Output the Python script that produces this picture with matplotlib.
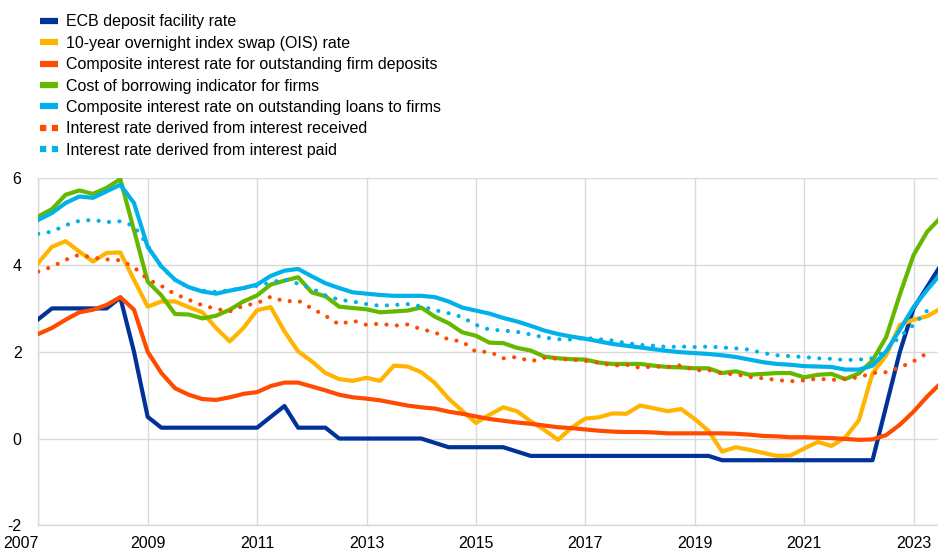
import matplotlib
matplotlib.use("Agg")
import matplotlib.pyplot as plt
import matplotlib.transforms as mtransforms
import numpy as np

# Quarterly observations, 2007 Q1 - 2023 Q3 (percentages per annum)
quarters = 2007 + np.arange(67) / 4

ecb_dfr = [2.75, 3.0, 3.0, 3.0, 3.0, 3.0, 3.25, 2.0, 0.5,
           0.25, 0.25, 0.25, 0.25, 0.25, 0.25, 0.25, 0.25,
           0.5, 0.75, 0.25, 0.25, 0.25,
           0.0, 0.0, 0.0, 0.0, 0.0, 0.0, 0.0,
           -0.1, -0.2, -0.2, -0.2, -0.2, -0.2, -0.3,
           -0.4, -0.4, -0.4, -0.4, -0.4, -0.4, -0.4, -0.4, -0.4, -0.4, -0.4, -0.4, -0.4, -0.4,
           -0.5, -0.5, -0.5, -0.5, -0.5, -0.5, -0.5, -0.5, -0.5, -0.5, -0.5, -0.5,
           0.75, 2.0, 3.0, 3.5, 4.0]

ois_10y = [4.05, 4.42, 4.55, 4.31, 4.08, 4.28, 4.29, 3.66, 3.04, 3.16,
           3.16, 3.03, 2.91, 2.55, 2.24, 2.55, 2.96, 3.03, 2.47, 2.01,
           1.78, 1.51, 1.37, 1.33, 1.40, 1.33, 1.68, 1.66, 1.53, 1.28,
           0.92, 0.64, 0.36, 0.55, 0.72, 0.63, 0.40, 0.20, -0.03, 0.25,
           0.46, 0.49, 0.58, 0.57, 0.76, 0.70, 0.63, 0.68, 0.45, 0.18,
           -0.30, -0.20, -0.26, -0.33, -0.40, -0.39, -0.23, -0.08, -0.17, 0.02,
           0.42, 1.50, 1.92, 2.62, 2.74, 2.82, 3.00]

deposits = [2.41, 2.55, 2.74, 2.91, 2.97, 3.08, 3.26, 2.97, 2.00, 1.51,
            1.16, 1.01, 0.91, 0.89, 0.95, 1.03, 1.07, 1.21, 1.29, 1.29,
            1.20, 1.11, 1.01, 0.95, 0.92, 0.88, 0.82, 0.76, 0.72, 0.69,
            0.62, 0.57, 0.51, 0.45, 0.41, 0.37, 0.34, 0.30, 0.26, 0.24,
            0.21, 0.18, 0.16, 0.15, 0.15, 0.14, 0.12, 0.12, 0.12, 0.12,
            0.12, 0.11, 0.09, 0.06, 0.05, 0.03, 0.03, 0.02, 0.01, -0.01,
            -0.03, -0.02, 0.08, 0.32, 0.62, 0.97, 1.28]

cost_borrowing = [5.12, 5.29, 5.62, 5.72, 5.64, 5.78, 5.98, 4.80, 3.62, 3.30,
                  2.87, 2.86, 2.77, 2.83, 2.97, 3.16, 3.30, 3.55, 3.64, 3.72,
                  3.37, 3.28, 3.04, 3.01, 2.98, 2.91, 2.93, 2.95, 3.02, 2.81,
                  2.66, 2.45, 2.37, 2.21, 2.20, 2.09, 2.03, 1.89, 1.85, 1.83,
                  1.82, 1.75, 1.72, 1.72, 1.72, 1.68, 1.65, 1.64, 1.62, 1.62,
                  1.51, 1.55, 1.47, 1.49, 1.51, 1.51, 1.41, 1.47, 1.49, 1.37,
                  1.50, 1.80, 2.34, 3.32, 4.23, 4.77, 5.10]

loans = [5.04, 5.20, 5.43, 5.58, 5.55, 5.70, 5.85, 5.43, 4.42, 3.97,
         3.66, 3.49, 3.39, 3.34, 3.41, 3.47, 3.55, 3.75, 3.87, 3.91,
         3.74, 3.58, 3.47, 3.37, 3.34, 3.31, 3.29, 3.29, 3.29, 3.26,
         3.16, 3.02, 2.95, 2.88, 2.78, 2.70, 2.60, 2.49, 2.41, 2.35,
         2.30, 2.24, 2.18, 2.14, 2.10, 2.06, 2.02, 1.99, 1.97, 1.95,
         1.92, 1.88, 1.82, 1.76, 1.72, 1.70, 1.67, 1.66, 1.65, 1.59,
         1.59, 1.68, 2.01, 2.51, 3.03, 3.43, 3.80]

# derived rates stop one quarter earlier
received = [3.85, 3.96, 4.12, 4.24, 4.17, 4.13, 4.11, 3.95, 3.67, 3.52,
            3.33, 3.20, 3.07, 2.99, 2.93, 3.06, 3.12, 3.27, 3.16, 3.18,
            3.00, 2.83, 2.63, 2.72, 2.62, 2.65, 2.60, 2.63, 2.52, 2.45,
            2.28, 2.24, 2.00, 2.00, 1.85, 1.88, 1.78, 1.86, 1.84, 1.82,
            1.79, 1.75, 1.68, 1.70, 1.63, 1.66, 1.65, 1.69, 1.57, 1.58,
            1.50, 1.48, 1.42, 1.39, 1.35, 1.32, 1.34, 1.38, 1.35, 1.38,
            1.41, 1.51, 1.53, 1.64, 1.78, 1.97]

paid = [4.72, 4.77, 4.92, 5.02, 5.04, 4.99, 5.01, 4.90, 4.45, 3.95,
        3.66, 3.48, 3.41, 3.38, 3.42, 3.47, 3.52, 3.60, 3.67, 3.57,
        3.46, 3.30, 3.20, 3.16, 3.10, 3.06, 3.08, 3.10, 3.05, 2.96,
        2.89, 2.80, 2.62, 2.51, 2.49, 2.46, 2.40, 2.33, 2.29, 2.28,
        2.32, 2.29, 2.26, 2.20, 2.16, 2.14, 2.11, 2.12, 2.11, 2.12,
        2.10, 2.08, 2.05, 1.97, 1.92, 1.90, 1.88, 1.85, 1.84, 1.81,
        1.82, 1.85, 2.03, 2.35, 2.62, 2.95]

year_ticks = [2007, 2009, 2011, 2013, 2015, 2017, 2019, 2021, 2023]

DARK_BLUE = "#003299"
YELLOW = "#FFB400"
RED = "#FF4B00"
GREEN = "#65B800"
LIGHT_BLUE = "#00B1EA"
GRID = "#D9D9D9"

plt.rcParams["font.family"] = ["Liberation Sans", "DejaVu Sans"]
plt.rcParams["font.size"] = 11.5
plt.rcParams["axes.unicode_minus"] = False

fig = plt.figure(figsize=(9.38, 5.52), dpi=100)
ax = fig.add_axes([0.0408, 0.0484, 0.9623, 0.6286])

lw = 3.0
dots = (0, (0.01, 2.5))

ax.plot(quarters, ecb_dfr, color=DARK_BLUE, lw=lw, label="ECB deposit facility rate", zorder=3)
ax.plot(quarters, ois_10y, color=YELLOW, lw=lw, label="10-year overnight index swap (OIS) rate", zorder=3)
ax.plot(quarters, deposits, color=RED, lw=lw,
        label="Composite interest rate for outstanding firm deposits", zorder=3)
ax.plot(quarters, cost_borrowing, color=GREEN, lw=lw,
        label="Cost of borrowing indicator for firms", zorder=3)
ax.plot(quarters, loans, color=LIGHT_BLUE, lw=lw,
        label="Composite interest rate on outstanding loans to firms", zorder=3)
ax.plot(quarters[:len(received)], received, color=RED, lw=lw, linestyle=dots,
        dash_capstyle="round", label="Interest rate derived from interest received", zorder=3)
ax.plot(quarters[:len(paid)], paid, color=LIGHT_BLUE, lw=lw, linestyle=dots,
        dash_capstyle="round", label="Interest rate derived from interest paid", zorder=3)

ax.set_xlim(2007, 2023.5)
ax.set_ylim(-2, 6)
ax.set_yticks([-2, 0, 2, 4, 6])
ax.set_xticks(year_ticks)
ax.set_xticklabels([str(y) for y in year_ticks])
ax.grid(True, color=GRID, lw=1.0, zorder=0)
ax.tick_params(length=0, pad=8, colors="black")
ax.tick_params(axis="y", pad=12)
for side in ("top", "right"):
    ax.spines[side].set_visible(False)
for side in ("left", "bottom"):
    ax.spines[side].set_color(GRID)
    ax.spines[side].set_linewidth(1.0)

# first year label sits left of the axis line
first = ax.get_xticklabels()[0]
first.set_transform(first.get_transform() +
                    mtransforms.ScaledTranslation(-0.17, 0, fig.dpi_scale_trans))

handles, labels = ax.get_legend_handles_labels()
leg = fig.legend(handles, labels, loc="upper left", bbox_to_anchor=(0.0426, 0.974),
                 frameon=False, borderpad=0, borderaxespad=0,
                 handlelength=1.1, handletextpad=0.55, labelspacing=0.40)
for line in leg.get_lines():
    line.set_linewidth(4.5)
    line.set_solid_capstyle("butt")
    line.set_dash_capstyle("butt")
for line in leg.get_lines()[5:]:
    line.set_linestyle((0, (1, 0.9)))

fig.savefig("out.png", dpi=100)
